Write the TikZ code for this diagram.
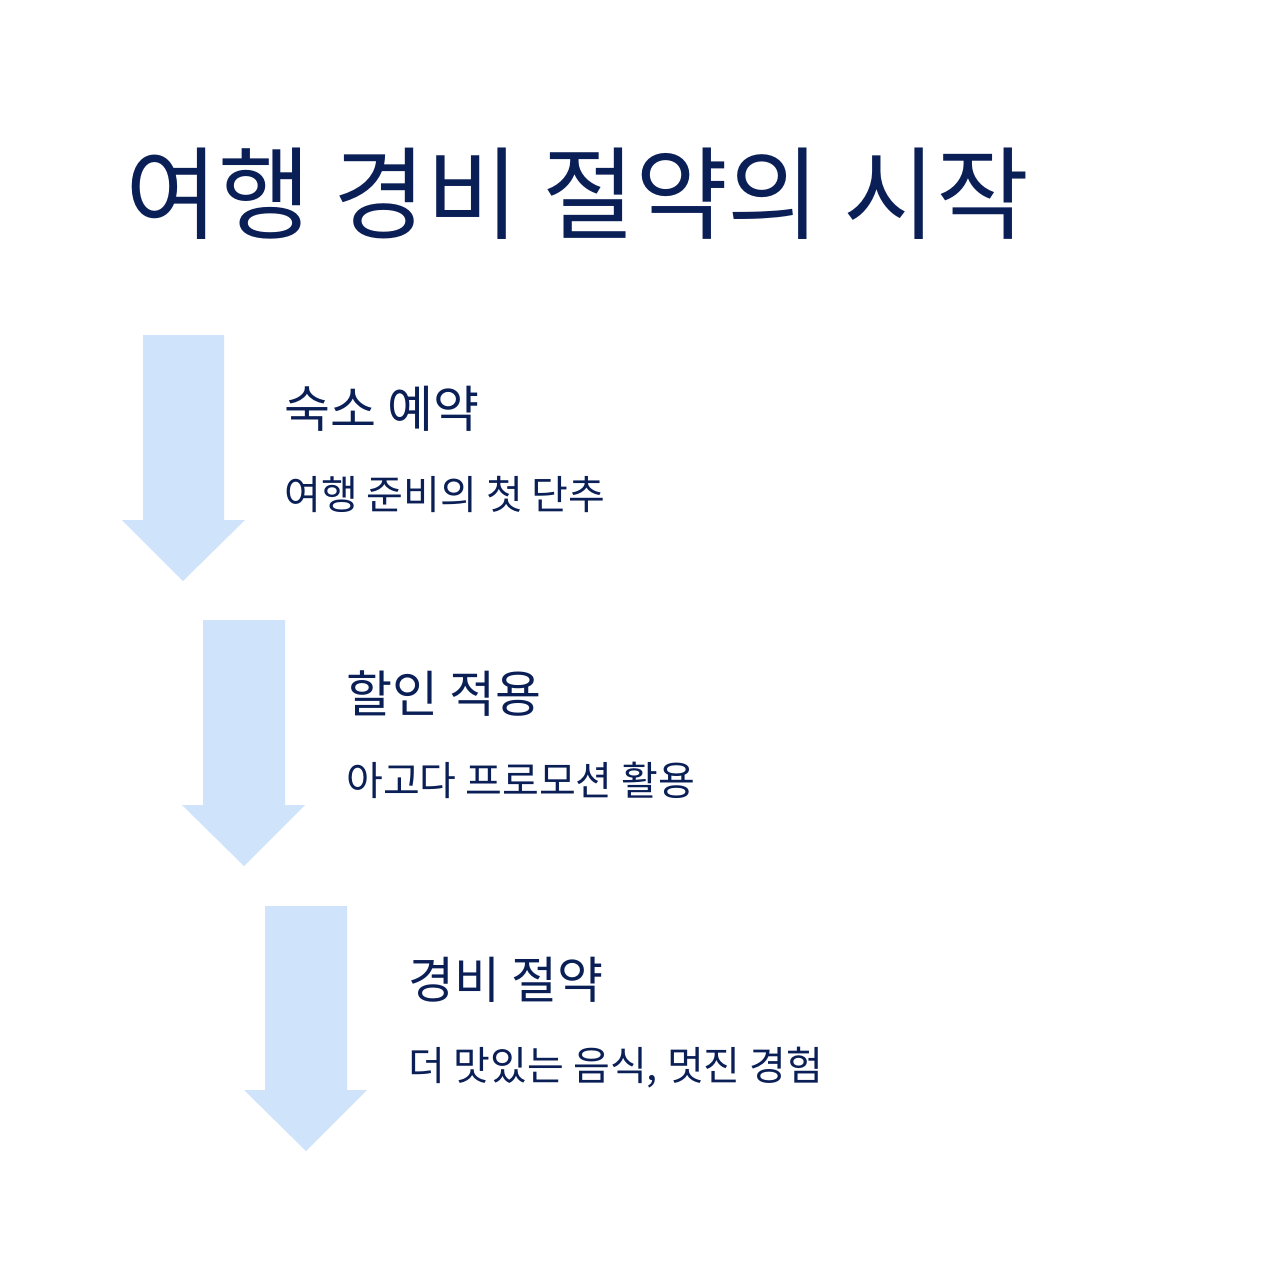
\documentclass[tikz,border=0pt]{standalone}
\usepackage{fontspec}
\newfontfamily\kr{Noto Sans CJK KR}
\definecolor{navy}{HTML}{0B1F57}
\definecolor{arrowblue}{HTML}{CFE4FA}
\begin{document}
\begin{tikzpicture}[x=1pt,y=-1pt,
  titletext/.style={anchor=base west,inner sep=0pt,text=navy,font=\kr\fontsize{101}{110}\selectfont},
  headtext/.style={anchor=base west,inner sep=0pt,text=navy,font=\kr\fontsize{50}{56}\selectfont},
  subtext/.style={anchor=base west,inner sep=0pt,text=navy,font=\kr\fontsize{40}{44}\selectfont},
  downarrow/.style={fill=arrowblue,draw=none}]
\useasboundingbox[fill=white] (0,0) rectangle (1280,1280);
\node[titletext] (title) at (125,231) {여행 경비 절약의 시작};
% arrows
\fill[downarrow] (143,335) -- (224,335) -- (224,520) -- (245,520) -- (183,581) -- (122,520) -- (143,520) -- cycle;
\fill[downarrow] (203,620) -- (285,620) -- (285,805) -- (305,805) -- (244,866) -- (182,805) -- (203,805) -- cycle;
\fill[downarrow] (265,906) -- (347,906) -- (347,1090) -- (367,1090) -- (306,1151) -- (244,1090) -- (265,1090) -- cycle;
% texts
\node[headtext] (h1) at (284,427) {숙소 예약};
\node[subtext] (s1) at (284,509) {여행 준비의 첫 단추};
\node[headtext] (h2) at (346,712) {할인 적용};
\node[subtext] (s2) at (346,795) {아고다 프로모션 활용};
\node[headtext] (h3) at (408,998) {경비 절약};
\node[subtext] (s3) at (408,1080) {더 맛있는 음식, 멋진 경험};
\end{tikzpicture}
\end{document}
